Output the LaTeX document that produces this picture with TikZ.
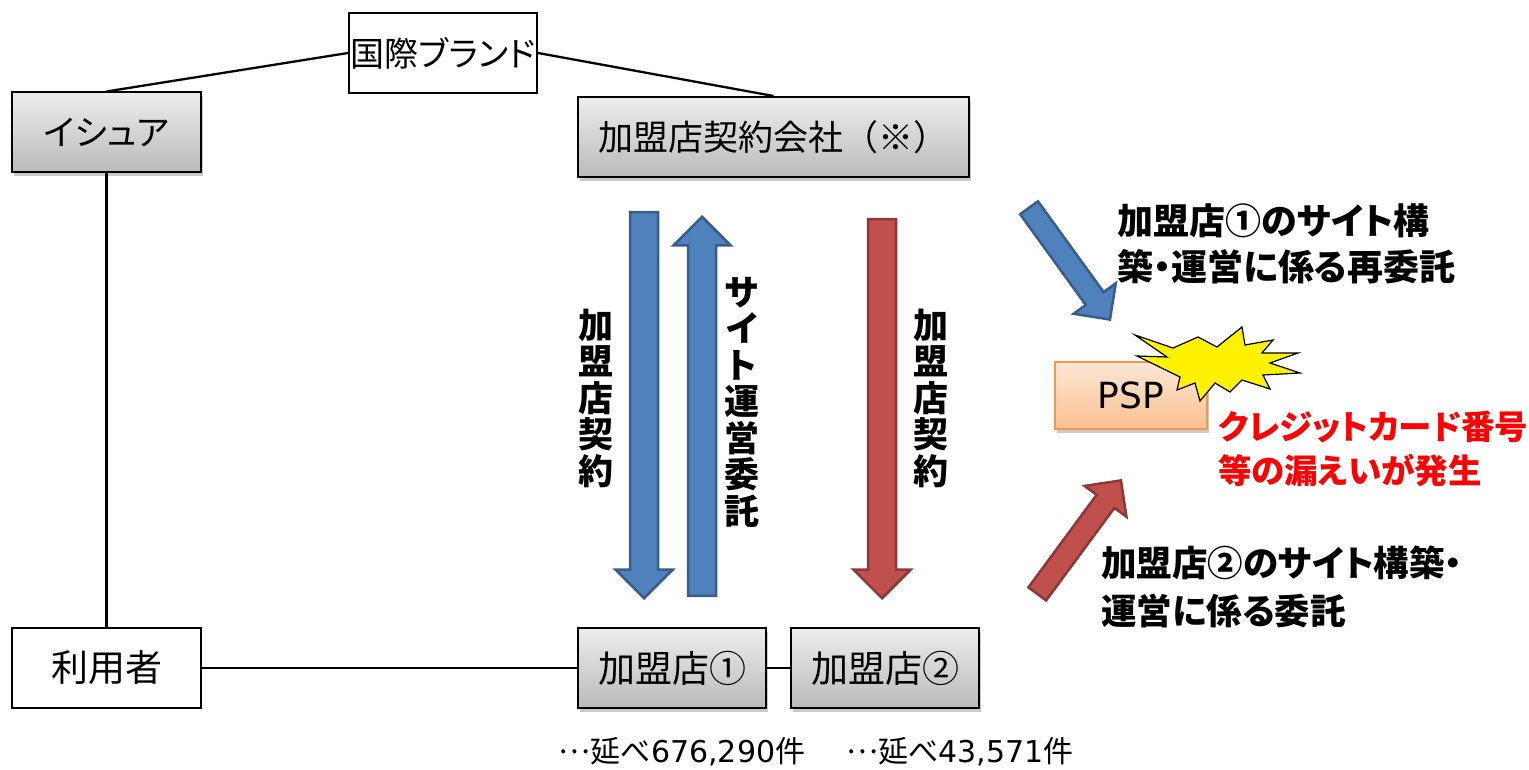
\documentclass[tikz,border=0pt]{standalone}
\usepackage{fontspec}
\newfontfamily\jp[RawFeature=+palt]{Noto Sans CJK JP}
\newfontfamily\jpn{Noto Sans CJK JP}
\newfontfamily\dv{DejaVu Sans}
\usetikzlibrary{shapes.arrows,shadows}
\definecolor{arrblue}{HTML}{4F81BD}
\definecolor{arrblueD}{HTML}{385D8A}
\definecolor{arrred}{HTML}{C0504D}
\definecolor{arrredD}{HTML}{8C3836}
\definecolor{pspT}{HTML}{FDE7D6}
\definecolor{pspB}{HTML}{FAC090}
\definecolor{pspD}{HTML}{F79646}
\begin{document}
\begin{tikzpicture}[x=1pt,y=-1pt,
  basebox/.style={draw=black, line width=2pt, minimum width=189, minimum height=80, inner sep=0pt,
    font=\jp\fontsize{34}{40}\selectfont},
  whitebox/.style={basebox, fill=white},
  graybox/.style={basebox, top color=black!7, bottom color=black!27,
    drop shadow={shadow xshift=2pt, shadow yshift=-4pt, opacity=0.35, fill=black!60}},
  conn/.style={draw=black, line width=2.3pt},
  bluearr/.style={single arrow, draw=arrblueD, fill=arrblue, line width=2.5pt, inner xsep=0pt,
    single arrow tip angle=90, anchor=tip},
  redarr/.style={single arrow, draw=arrredD, fill=arrred, line width=2.5pt, inner xsep=0pt,
    single arrow tip angle=90, anchor=tip},
  varr/.style={inner ysep=12.75pt, single arrow head extend=14.5pt},
  darr/.style={inner ysep=9.75pt, single arrow head extend=15pt},
  vlab/.style={align=center, font=\jp\bfseries\fontsize{35}{36.5}\selectfont, inner sep=0pt},
  rlab/.style={align=left, anchor=west, inner sep=0pt},
  btm/.style={font=\jp\fontsize{30}{34}\selectfont, inner sep=0pt}
]
\useasboundingbox (0,0) rectangle (1529,770);

% boxes
\node[whitebox, minimum width=188] (brand) at (443,53) {国際ブランド};
\node[graybox, font=\jp\fontsize{35}{40}\selectfont] (iss) at (106.5,132.5) {イシュア};
\node[graybox, minimum width=391, font=\jpn\fontsize{35}{40}\selectfont] (acq) at (773.5,137) {加盟店契約会社（※）};
\node[whitebox, font=\jp\fontsize{37}{40}\selectfont] (user) at (106.5,668) {利用者};
\node[graybox, minimum width=188, font=\jpn\fontsize{37}{40}\selectfont] (m1) at (672,668) {加盟店①};
\node[graybox, minimum width=188, font=\jpn\fontsize{37}{40}\selectfont] (m2) at (885,668) {加盟店②};
\node[basebox, minimum width=152, minimum height=67, draw=pspD, line width=1.5pt,
  top color=pspT, bottom color=pspB,
  drop shadow={shadow xshift=2pt, shadow yshift=-4pt, opacity=0.35, fill=black!60},
  font=\dv\fontsize{36}{40}\selectfont] (psp) at (1131,395.5) {PSP};

% connectors
\draw[conn] (brand.west) -- (iss.north);
\draw[conn] (brand.east) -- (acq.north);
\draw[conn] (iss.south) -- (user.north);
\draw[conn] (user.east) -- (m1.west);
\draw[conn] (m1.east) -- (m2.west);

% vertical arrows
\node[bluearr, varr, minimum height=386, rotate=-90] (a1) at (644,600) {};
\node[bluearr, varr, minimum height=379, rotate=90] (a2) at (702,215) {};
\node[redarr, varr, minimum height=379, rotate=-90] (a3) at (882,600) {};

% diagonal arrows
\node[bluearr, darr, minimum height=138, rotate=-54.1] (a4) at (1111,321) {};
\node[redarr, darr, minimum height=141, rotate=53.6] (a5) at (1122,479) {};

% vertical labels
\node[vlab] (l1) at (596,398) {加\\盟\\店\\契\\約};
\node[vlab] (l2) at (742,402) {サ\\イ\\ト\\運\\営\\委\\託};
\node[vlab] (l3) at (931,398) {加\\盟\\店\\契\\約};

% starburst
\draw[fill=yellow, line width=1.2pt, line join=miter] (1135,335) -- (1173,348) -- (1198,337) -- (1217,347) -- (1242,327) -- (1245,345)
  -- (1273,340) -- (1262,353) -- (1298,353) -- (1270,363) -- (1300,373) -- (1263,375) -- (1270,389)
  -- (1242,380) -- (1230,392) -- (1215,383) -- (1200,401) -- (1195,383) -- (1177,390) -- (1180,377)
  -- (1137,356) -- (1167,357) -- cycle;

% right labels
\node[rlab, font=\jp\bfseries\fontsize{36}{46}\selectfont] (t1) at (1117,244) {加盟店①のサイト構\\築・運営に係る再委託};
\node[rlab, font=\jp\bfseries\fontsize{33.5}{44}\selectfont, text=red] (t2) at (1218,449) {クレジットカード番号\\等の漏えいが発生};
\node[rlab, font=\jp\bfseries\fontsize{35.5}{48}\selectfont] (t3) at (1101,587) {加盟店②のサイト構築・\\運営に係る委託};

% bottom counts
\node[btm] (c1) at (682,752) {\raisebox{9pt}{\jpn …}延べ{\dv 676,290}件};
\node[btm] (c2) at (960,752) {\raisebox{9pt}{\jpn …}延べ{\dv 43,571}件};
\end{tikzpicture}
\end{document}
